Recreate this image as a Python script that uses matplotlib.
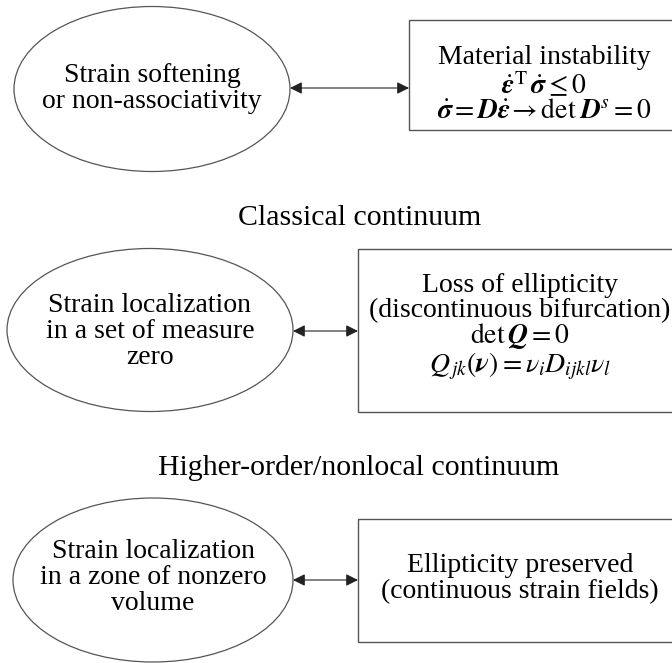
import matplotlib.pyplot as plt
from matplotlib.patches import Ellipse, Rectangle

plt.rcParams['font.family'] = ['Liberation Serif', 'DejaVu Serif']
plt.rcParams['mathtext.fontset'] = 'stix'

# texts of the diagram, one row per level
ellipse_texts = [
    ['Strain softening', 'or non-associativity'],
    ['Strain localization', 'in a set of measure', 'zero'],
    ['Strain localization', 'in a zone of nonzero', 'volume'],
]
box_texts = [
    ['Material instability',
     r'$\dot{\mathbfit{\varepsilon}}^{\mathrm{T}}\,\dot{\mathbfit{\sigma}} \leq 0$',
     r'$\dot{\mathbfit{\sigma}} = \mathbfit{D}\dot{\mathbfit{\varepsilon}}\!\rightarrow \mathrm{det}\;\mathbfit{D}^{s} = 0$'],
    ['Loss of ellipticity', '(discontinuous bifurcation)',
     r'$\mathrm{det}\,\mathbfit{Q} = 0$',
     r'$Q_{\,jk}(\mathbfit{\nu}) = \nu_i D_{ijkl} \nu_l$'],
    ['Ellipticity preserved', '(continuous strain fields)'],
]
section_titles = ['Classical continuum', 'Higher-order/nonlocal continuum']

fig = plt.figure(figsize=(6.72, 6.63), dpi=100)
ax = fig.add_axes([0, 0, 1, 1])
ax.set_xlim(0, 672)
ax.set_ylim(663, 0)
ax.axis('off')

fs = 20
fs_title = 21.5
edge = '#555555'

# layout (pixels)
ell_geo = [(152, 89, 276, 165), (150, 330, 286, 163), (153, 580, 280, 164)]
ell_lines = [[75, 101], [305, 331, 357], [552, 578, 603]]
box_geo = [(409, 20, 110), (358, 249, 163), (358, 519, 123)]
box_lines = [[58, 85, 111], [286, 311, 336, 366], [565, 592]]
box_cx = [544, 520, 520]
arrow_y = [88, 331, 580]
arrow_x0 = [290, 293, 293]
title_pos = [(360, 218), (359, 468)]

for i in range(3):
    cx, cy, w, h = ell_geo[i]
    ax.add_patch(Ellipse((cx, cy), w, h, fill=False, edgecolor=edge, lw=0.9))
    for txt, y in zip(ellipse_texts[i], ell_lines[i]):
        ax.text(cx, y, txt, ha='center', va='center', fontsize=fs)

    bx, by, bh = box_geo[i]
    ax.add_patch(Rectangle((bx, by), 400, bh, fill=False, edgecolor=edge, lw=1.0))
    for txt, y in zip(box_texts[i], box_lines[i]):
        ax.text(box_cx[i], y, txt, ha='center', va='center', fontsize=fs)

    ax.annotate('', xy=(bx, arrow_y[i]), xytext=(arrow_x0[i], arrow_y[i]),
                arrowprops=dict(arrowstyle='<|-|>', color='#222222', lw=0.8,
                                mutation_scale=18, shrinkA=0, shrinkB=0))

for txt, (x, y) in zip(section_titles, title_pos):
    ax.text(x, y, txt, ha='center', va='center', fontsize=fs_title)

fig.savefig('out.png', dpi=100, facecolor='white')
